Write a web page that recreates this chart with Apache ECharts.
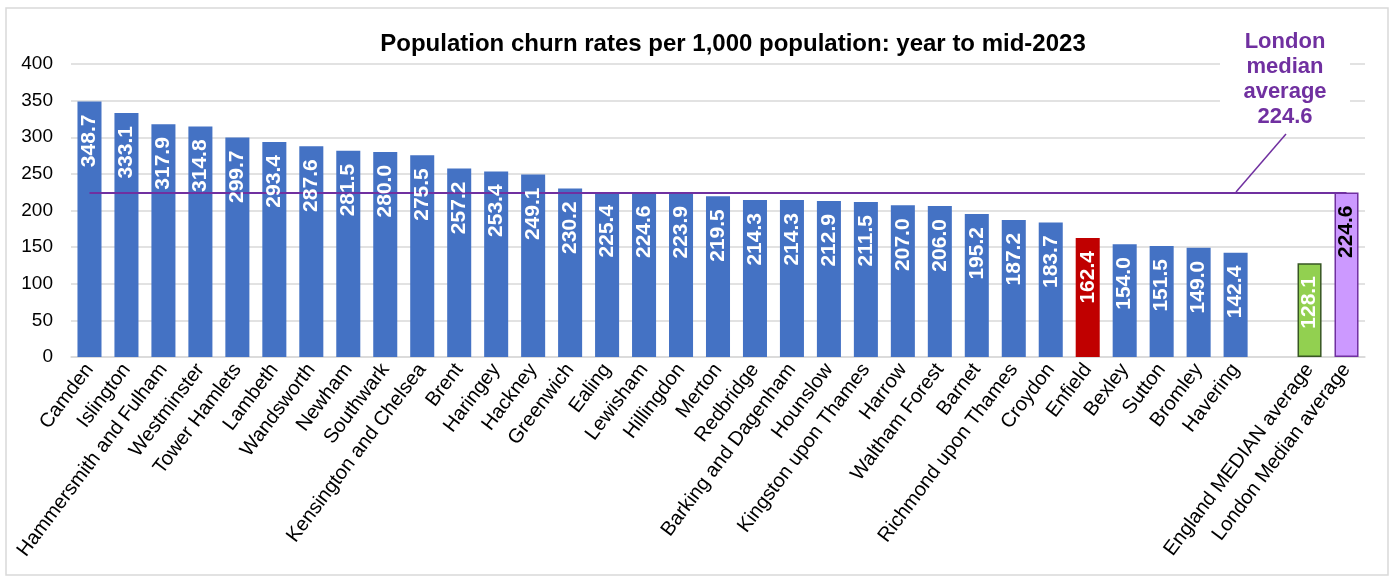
<!DOCTYPE html>
<html><head><meta charset="utf-8">
<script src="https://cdn.jsdelivr.net/npm/echarts@6/dist/echarts.min.js"></script>
<style>html,body{margin:0;padding:0;background:#fff}#c{width:1395px;height:578px}</style>
</head><body><div id="c"></div>
<script>
const categories = ['Camden','Islington','Hammersmith and Fulham','Westminster','Tower Hamlets','Lambeth','Wandsworth','Newham','Southwark','Kensington and Chelsea','Brent','Haringey','Hackney','Greenwich','Ealing','Lewisham','Hillingdon','Merton','Redbridge','Barking and Dagenham','Hounslow','Kingston upon Thames','Harrow','Waltham Forest','Barnet','Richmond upon Thames','Croydon','Enfield','Bexley','Sutton','Bromley','Havering','','England MEDIAN average','London Median average'];
const values = [348.7,333.1,317.9,314.8,299.7,293.4,287.6,281.5,280.0,275.5,257.2,253.4,249.1,230.2,225.4,224.6,223.9,219.5,214.3,214.3,212.9,211.5,207.0,206.0,195.2,187.2,183.7,162.4,154.0,151.5,149.0,142.4,null,128.1,224.6];
const londonMedian = 224.6;
const yTicks = [0,50,100,150,200,250,300,350,400];
const titleText = 'Population churn rates per 1,000 population: year to mid-2023';
const annotationText = 'London\nmedian\naverage\n224.6';

const FONT = '"Liberation Sans", Arial, sans-serif';
const barData = categories.map((c, i) => {
  let color = '#4472C4', border = null;
  if (c === 'Enfield') color = '#C00000';
  if (c === 'England MEDIAN average') { color = '#92D050'; border = '#375623'; }
  if (c === 'London Median average') { color = '#CC99FF'; border = '#7030A0'; }
  const item = { value: values[i], itemStyle: { color: color } };
  if (border) { item.itemStyle.borderColor = border; item.itemStyle.borderWidth = 1.5; }
  return item;
});
const labelData = categories.map((c, i) => ({
  value: values[i],
  label: { color: c === 'London Median average' ? '#000' : '#fff' }
}));

const chart = echarts.init(document.getElementById('c'), null, { renderer: 'canvas' });
chart.setOption({
  animation: false,
  backgroundColor: '#fff',
  title: { text: titleText, left: 728, top: 27, textAlign: 'center',
    textStyle: { fontFamily: FONT, fontSize: 24, fontWeight: 'bold', color: '#000' } },
  grid: { left: 71, right: 30, top: 64, bottom: 221, containLabel: false },
  xAxis: {
    type: 'category', data: categories,
    axisLine: { lineStyle: { color: '#D9D9D9', width: 1.5 } },
    axisTick: { show: false },
    axisLabel: { interval: 0, rotate: 53, fontFamily: FONT, fontSize: 20, color: '#000', margin: 9 }
  },
  yAxis: {
    type: 'value', min: 0, max: 400, interval: 50,
    axisLine: { show: false }, axisTick: { show: false },
    axisLabel: { fontFamily: FONT, fontSize: 19, color: '#000', margin: 18,
      formatter: v => yTicks.includes(v) ? String(v) : '' },
    splitLine: { lineStyle: { color: '#D9D9D9', width: 1.5 } }
  },
  series: [{
    type: 'bar', data: barData, barWidth: '65%', z: 2,
    markLine: {
      silent: true, symbol: 'none', label: { show: false },
      lineStyle: { color: '#7030A0', width: 2, type: 'solid' },
      data: [[{ coord: [categories[0], londonMedian] }, { coord: [categories[categories.length - 1], londonMedian] }]]
    }
  }, {
    type: 'bar', data: labelData, barWidth: '65%', barGap: '-100%', z: 5,
    itemStyle: { color: 'rgba(0,0,0,0)' },
    label: { show: true, position: 'insideTop', rotate: 90, align: 'right', verticalAlign: 'middle',
      distance: 13, fontFamily: FONT, fontSize: 21, fontWeight: 'bold',
      formatter: p => p.value == null ? '' : Number(p.value).toFixed(1) }
  }],
  graphic: [
    { type: 'rect', shape: { x: 6, y: 8, width: 1382, height: 567 }, style: { fill: null, stroke: '#D9D9D9', lineWidth: 1.5 }, z: 100, silent: true },
    { type: 'rect', shape: { x: 1220, y: 26, width: 130, height: 102 }, style: { fill: '#fff' }, z: 50 },
    { type: 'text', x: 1285, y: 29, z: 60, style: { text: annotationText, fill: '#7030A0', font: 'bold 22px "Liberation Sans", Arial, sans-serif', textAlign: 'center', lineHeight: 25 } },
    { type: 'line', shape: { x1: 1286, y1: 134, x2: 1236, y2: 192 }, style: { stroke: '#7030A0', lineWidth: 1.5 }, z: 60 }
  ]
});
</script></body></html>
